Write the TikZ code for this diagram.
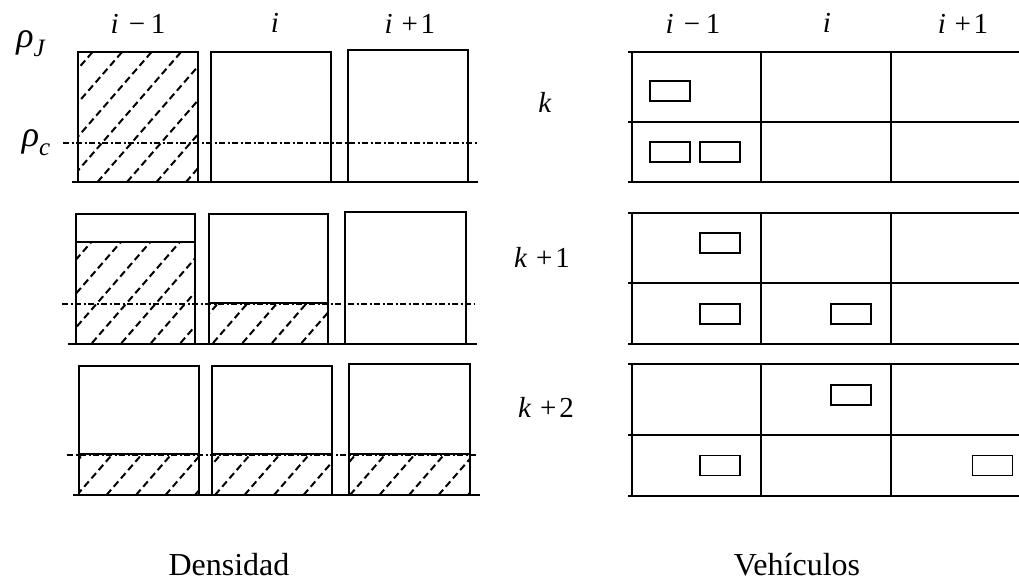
\documentclass[tikz,border=0pt]{standalone}
\usepackage{fontspec}
\setmainfont{Liberation Serif}
\tikzset{
  box/.style={line width=2pt},
  hatchline/.style={line width=2pt, dash pattern=on 7pt off 4pt},
  dashdot/.style={line width=2pt, dash pattern=on 6pt off 2.5pt on 2pt off 2.5pt},
  car/.style={draw, line width=1.6pt, minimum width=40pt, minimum height=20pt, inner sep=0pt},
  lbl/.style={font=\fontsize{29}{33}\selectfont, inner sep=0pt, anchor=base},
  rholbl/.style={font=\fontsize{36}{40}\selectfont, inner sep=0pt},
  caption/.style={font=\fontsize{32}{36}\selectfont, inner sep=0pt, anchor=base}
}
% diagonal dashed hatching inside a rectangle: x1, ytop, x2, ybottom, phase
\newcommand\hatchfill[5]{%
  \begin{scope}
    \clip (#1,#2) rectangle (#3,#4);
    \foreach \n in {-6,...,5} {\draw[hatchline] ({#5+29.5*\n},#4) -- ++(140,-161);}
  \end{scope}}
\newcommand\imin{\textit{i}\hspace{0.35em}−\hspace{0.2em}1}
\newcommand\iplus{\textit{i}\hspace{0.3em}+\hspace{0.1em}1}
\begin{document}
\begin{tikzpicture}[x=1pt, y=-1pt]
\useasboundingbox (0,0) rectangle (1019,581);

% ---------- density panel ----------
% column headings and density levels
\node[lbl] (dl1) at (138,33) {\imin};
\node[lbl] (dl2) at (275,32) {\textit{i}};
\node[lbl] (dl3) at (410,33) {\iplus};
\node[rholbl] (rhoJ) at (31,44) {\textit{ρ}\raisebox{-0.25em}{\fontsize{25}{27}\selectfont\textit{J}}};
\node[rholbl] (rhoC) at (36,143) {\textit{ρ}\raisebox{-0.25em}{\fontsize{25}{27}\selectfont\textit{c}}};

% time step k
\hatchfill{78}{52}{198}{182}{68}
\draw[box] (78,182) |- (198,52) -- (198,182);
\draw[box] (211,182) |- (331,52) -- (331,182);
\draw[box] (348,182) |- (468,50) -- (468,182);
\draw[box] (72,182) -- (478,182);
\draw[dashdot] (63,143) -- (478,143);

% time step k+1
\hatchfill{76}{242}{195}{343}{92}
\hatchfill{209}{303}{328}{343}{213}
\draw[box] (76,344) |- (195,214) -- (195,344);
\draw[box] (76,242) -- (195,242);
\draw[box] (209,344) |- (328,214) -- (328,344);
\draw[box] (209,303) -- (328,303);
\draw[box] (345,344) |- (466,212) -- (466,344);
\draw[box] (68,344) -- (477,344);
\draw[dashdot] (62,304) -- (475,304);

% time step k+2
\hatchfill{79}{454}{199}{495}{77}
\hatchfill{212}{454}{332}{495}{215}
\hatchfill{349}{454}{470}{495}{350}
\draw[box] (79,495) |- (199,366) -- (199,495);
\draw[box] (212,495) |- (332,366) -- (332,495);
\draw[box] (349,495) |- (470,364) -- (470,495);
\draw[box] (79,454) -- (199,454);
\draw[box] (212,454) -- (332,454);
\draw[box] (349,454) -- (470,454);
\draw[box] (73,495) -- (480,495);
\draw[dashdot] (67,455) -- (478,455);

\node[caption] (dens) at (229,575) {Densidad};

% ---------- vehicle panel ----------
\node[lbl] (vl1) at (693,33) {\imin};
\node[lbl] (vl2) at (827,32) {\textit{i}};
\node[lbl] (vl3) at (963,33) {\iplus};
\node[lbl] (t0) at (545,112) {\textit{k}};
\node[lbl] (t1) at (542,267) {\textit{k}\hspace{0.3em}+\hspace{0.1em}1};
\node[lbl] (t2) at (546,417) {\textit{k}\hspace{0.3em}+\hspace{0.1em}2};

% road grids: two lanes, three cells
\foreach \top/\mid/\bot in {52/122/182, 213/283/344, 364/435/496} {
  \draw[box] (628,\top) -- (1019,\top);
  \draw[box] (628,\mid) -- (1019,\mid);
  \draw[box] (628,\bot) -- (1019,\bot);
  \foreach \xx in {632,761,891} \draw[box] (\xx,\top) -- (\xx,\bot);
}

% vehicles
\node[car] (a1) at (670,91) {};
\node[car] (a2) at (670,152) {};
\node[car] (a3) at (720,152) {};
\node[car] (b1) at (720,243) {};
\node[car] (b2) at (720,314) {};
\node[car] (b3) at (851,314) {};
\node[car] (c1) at (851,395) {};
\node[car] (c2) at (720,465.5) {};
\node[car] (c3) at (992.5,465.5) {};

\node[caption] (veh) at (797,575) {Vehículos};
\end{tikzpicture}
\end{document}
